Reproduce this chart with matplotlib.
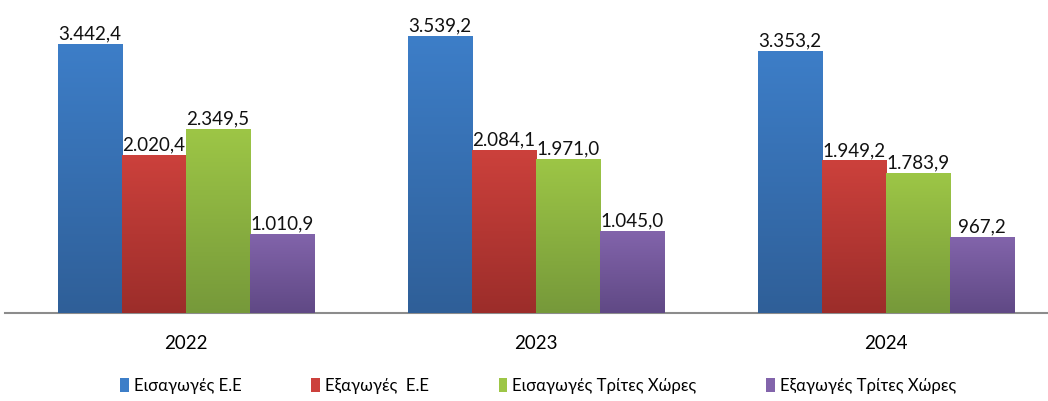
import numpy as np
import matplotlib
matplotlib.use("Agg")
from matplotlib import pyplot as plt
from matplotlib.colors import LinearSegmentedColormap
from matplotlib.patches import Patch

plt.rcParams['font.family'] = ['Lato', 'DejaVu Sans']

years = ['2022', '2023', '2024']
series = ['Εισαγωγές Ε.Ε', 'Εξαγωγές  Ε.Ε', 'Εισαγωγές Τρίτες Χώρες', 'Εξαγωγές Τρίτες Χώρες']
imports_eu = [3442.4, 3539.2, 3353.2]
exports_eu = [2020.4, 2084.1, 1949.2]
imports_third = [2349.5, 1971.0, 1783.9]
exports_third = [1010.9, 1045.0, 967.2]
labels = [
    ['3.442,4', '3.539,2', '3.353,2'],
    ['2.020,4', '2.084,1', '1.949,2'],
    ['2.349,5', '1.971,0', '1.783,9'],
    ['1.010,9', '1.045,0', '967,2'],
]

# top / bottom colour of each bar gradient
colors = [('#3d7ec8', '#2f5f98'), ('#cc413c', '#9c2d2a'),
          ('#9dc646', '#76993a'), ('#8264ab', '#604985')]

fig = plt.figure(figsize=(10.48, 4.01), dpi=100)
ax = fig.add_axes([5 / 1048, 88 / 401, 1 - 5 / 1048, 313 / 401])

x = np.arange(len(years))
w = 0.183
values = [imports_eu, exports_eu, imports_third, exports_third]
for i, vals in enumerate(values):
    offs = (i - 1.5) * w
    bars = ax.bar(x + offs, vals, w, color=colors[i][0], edgecolor='none', zorder=2)
    cmap = LinearSegmentedColormap.from_list('g%d' % i, [colors[i][1], colors[i][0]])
    for b, v, lab in zip(bars, vals, labels[i]):
        grad = np.linspace(0, 1, 256).reshape(-1, 1)
        im = ax.imshow(grad, cmap=cmap, aspect='auto', origin='lower',
                       extent=(b.get_x(), b.get_x() + w, 0, v), zorder=3)
        im.set_clip_path(b)
        ax.text(b.get_x() + w / 2, v + 20, lab, ha='center', va='bottom',
                fontsize=13.5, color='#111111', zorder=4)

ax.set_xlim(-0.517, 2.463)
ax.set_ylim(0, 4000)
for s in ['top', 'right', 'left']:
    ax.spines[s].set_visible(False)
ax.spines['bottom'].set_color('#8c8c8c')
ax.spines['bottom'].set_linewidth(1.5)
ax.set_yticks([])
ax.set_xticks(x)
ax.set_xticklabels(years, fontsize=13.5)
ax.tick_params(axis='x', length=0, pad=16)

handles = [Patch(facecolor=c[0], edgecolor='none') for c in colors]
fig.legend(handles, series, loc='center', bbox_to_anchor=(538 / 1048, 1 - 386 / 401),
           ncol=4, frameon=False, fontsize=12, handlelength=0.5, handleheight=0.9,
           handletextpad=0.3, columnspacing=4.2)

fig.savefig('out.png', dpi=100)
plt.close(fig)
